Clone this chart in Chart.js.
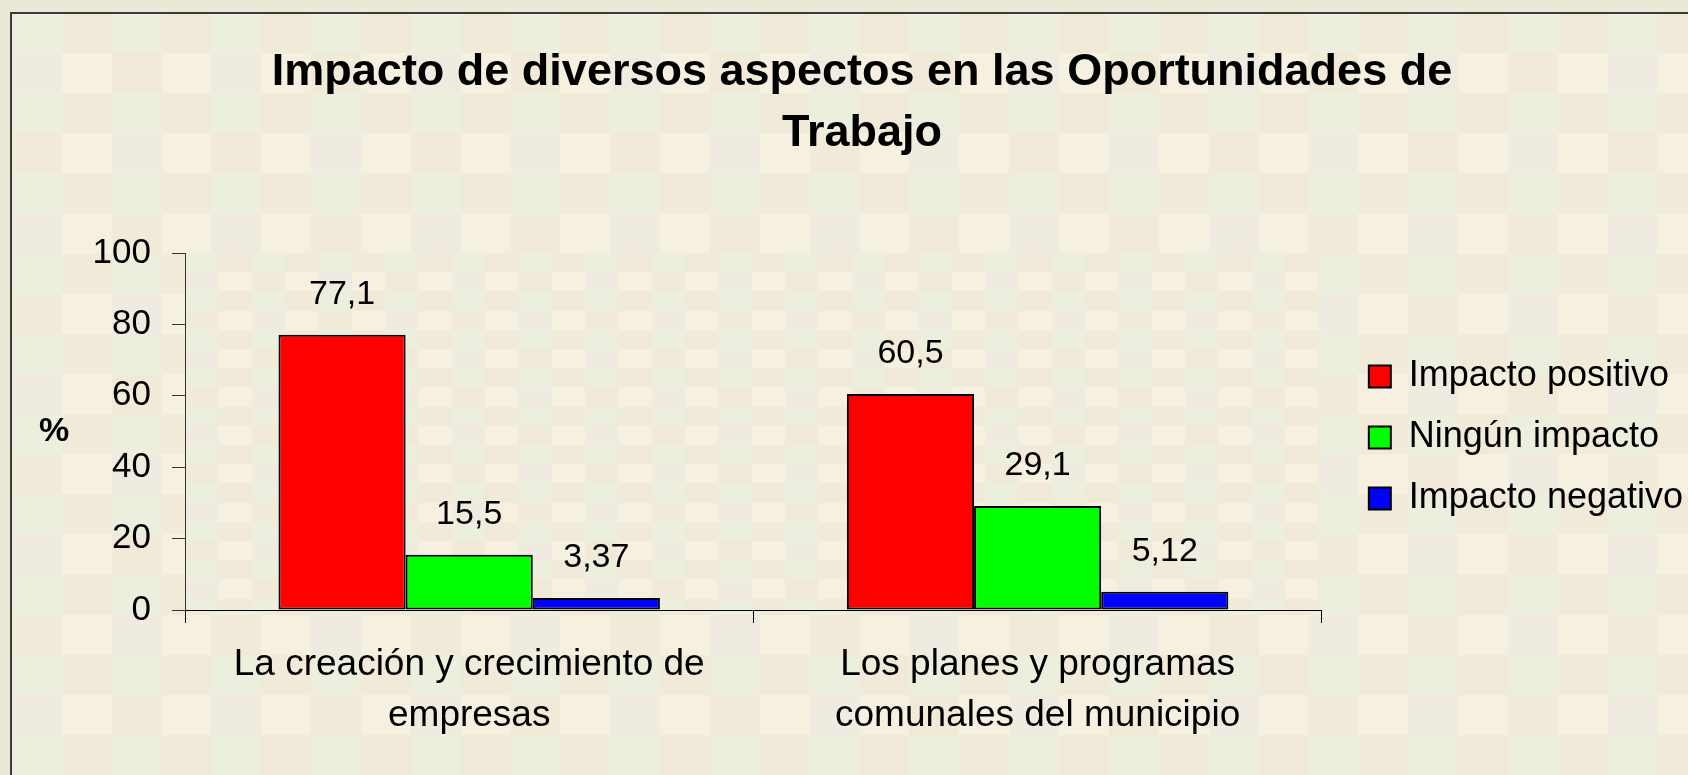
<!DOCTYPE html>
<html>
<head>
<meta charset="utf-8">
<script src="https://cdn.jsdelivr.net/npm/chart.js@4.4.0/dist/chart.umd.min.js"></script>
<style>
  html, body { margin: 0; padding: 0; background: #eae9d8; }
</style>
</head>
<body>
<canvas id="chart" width="1688" height="775"></canvas>
<script>
// Data
const categories = [
    ['La creación y crecimiento de', 'empresas'],
    ['Los planes y programas', 'comunales del municipio']
];
const seriesNames = ['Impacto positivo', 'Ningún impacto', 'Impacto negativo'];
const impactoPositivo = [77.1, 60.5];
const ningunImpacto = [15.5, 29.1];
const impactoNegativo = [3.37, 5.12];
const yTicks = [0, 20, 40, 60, 80, 100];
const chartTitle = ['Impacto de diversos aspectos en las Oportunidades de', 'Trabajo'];
const yAxisLabel = '%';

const seriesColors = ['#ff0000', '#00ff00', '#0000ff'];
const fontFamily = '"Liberation Sans", Arial, sans-serif';

// Background texture colours (greenish, beige, cream, grey)
const G = '#edefde', B = '#f1ead8', C = '#f6f0e0', Y = '#efebe1';
const tileColors = [
    [G, B, G, B],
    [Y, C, B, C],
    [G, B, G, B],
    [B, C, Y, C]
];

Chart.defaults.font.family = fontFamily;
Chart.defaults.color = '#000';

function drawTiles(ctx, x0, y0, x1, y1, w, h) {
    ctx.save();
    ctx.beginPath();
    ctx.rect(x0, y0, x1 - x0, y1 - y0);
    ctx.clip();
    for (let r = 0; y0 + r * h < y1; r++) {
        for (let c = 0; x0 + c * w < x1; c++) {
            const xa = Math.round(x0 + c * w), xb = Math.round(x0 + (c + 1) * w);
            const ya = Math.round(y0 + r * h), yb = Math.round(y0 + (r + 1) * h);
            ctx.fillStyle = tileColors[r % 4][c % 4];
            ctx.fillRect(xa, ya, xb - xa, yb - ya);
        }
    }
    ctx.restore();
}

// Textured background, frame and plot area
const backgroundPlugin = {
    id: 'backgroundPlugin',
    beforeDraw(chart) {
        const ctx = chart.ctx;
        const area = chart.chartArea;
        ctx.save();
        ctx.fillStyle = '#eae9d8';
        ctx.fillRect(0, 0, chart.width, chart.height);
        drawTiles(ctx, 12, 13, chart.width, chart.height, 49.86, 40.1);
        ctx.fillStyle = '#3a3a3a';
        ctx.fillRect(10, 12, chart.width - 10, 2);
        ctx.fillRect(10, 12, 2, chart.height - 12);
        drawTiles(ctx, area.left, area.top, area.right, area.bottom, 33.33, 19.2);
        ctx.restore();
    }
};

// Value labels above bars with comma decimals
const valueLabels = {
    id: 'valueLabels',
    afterDatasetsDraw(chart) {
        const ctx = chart.ctx;
        ctx.save();
        ctx.font = '34px ' + fontFamily;
        ctx.fillStyle = '#000';
        ctx.textAlign = 'center';
        ctx.textBaseline = 'middle';
        chart.data.datasets.forEach((ds, i) => {
            chart.getDatasetMeta(i).data.forEach((bar, j) => {
                ctx.fillText(String(ds.data[j]).replace('.', ','), bar.x, bar.y - 40);
            });
        });
        ctx.restore();
    }
};

// Horizontal "%" label left of the y axis
const yLabelPlugin = {
    id: 'yLabelPlugin',
    afterDraw(chart) {
        const ctx = chart.ctx;
        const area = chart.chartArea;
        ctx.save();
        ctx.font = 'bold 34px ' + fontFamily;
        ctx.fillStyle = '#000';
        ctx.textAlign = 'center';
        ctx.textBaseline = 'middle';
        ctx.fillText(yAxisLabel, 54, (area.top + area.bottom) / 2);
        ctx.restore();
    }
};

// Nudge the legend away from the plot area
const legendShift = {
    id: 'legendShift',
    afterLayout(chart) {
        const lg = chart.legend;
        lg.left += 22; lg.right += 22;
        lg.top += 6; lg.bottom += 6;
    }
};

const ctx = document.getElementById('chart').getContext('2d');
new Chart(ctx, {
    type: 'bar',
    data: {
        labels: categories,
        datasets: [
            { label: seriesNames[0], data: impactoPositivo, backgroundColor: seriesColors[0] },
            { label: seriesNames[1], data: ningunImpacto, backgroundColor: seriesColors[1] },
            { label: seriesNames[2], data: impactoNegativo, backgroundColor: seriesColors[2] }
        ].map(ds => Object.assign(ds, {
            borderColor: '#000',
            borderWidth: 2,
            borderSkipped: false,
            categoryPercentage: 0.671,
            barPercentage: 1
        }))
    },
    options: {
        responsive: false,
        animation: false,
        layout: { padding: { left: 53, right: 17, top: 0, bottom: 18 } },
        plugins: {
            title: {
                display: true,
                text: chartTitle,
                color: '#000',
                font: { size: 45, weight: 'bold', lineHeight: 1.356 },
                padding: { top: 42, bottom: 89 }
            },
            legend: {
                position: 'right',
                fullSize: false,
                align: 'center',
                labels: {
                    boxWidth: 22,
                    boxHeight: 22,
                    padding: 25,
                    color: '#000',
                    font: { size: 36 }
                }
            },
            tooltip: { enabled: false }
        },
        scales: {
            x: {
                ticks: {
                    color: '#000',
                    font: { size: 37, lineHeight: 51 / 37 },
                    padding: 16,
                    maxRotation: 0,
                    autoSkip: false
                },
                grid: { offset: true, drawOnChartArea: false, tickLength: 13, color: '#000' },
                border: { color: '#000', width: 1 }
            },
            y: {
                min: 0,
                max: 100,
                afterBuildTicks: scale => { scale.ticks = yTicks.map(v => ({ value: v })); },
                afterFit: scale => { scale.width = 132; },
                ticks: { color: '#000', font: { size: 35 }, padding: 21 },
                grid: { drawOnChartArea: false, tickLength: 13, color: '#333' },
                border: { color: '#333', width: 1 }
            }
        }
    },
    plugins: [backgroundPlugin, valueLabels, yLabelPlugin, legendShift]
});
</script>
</body>
</html>
